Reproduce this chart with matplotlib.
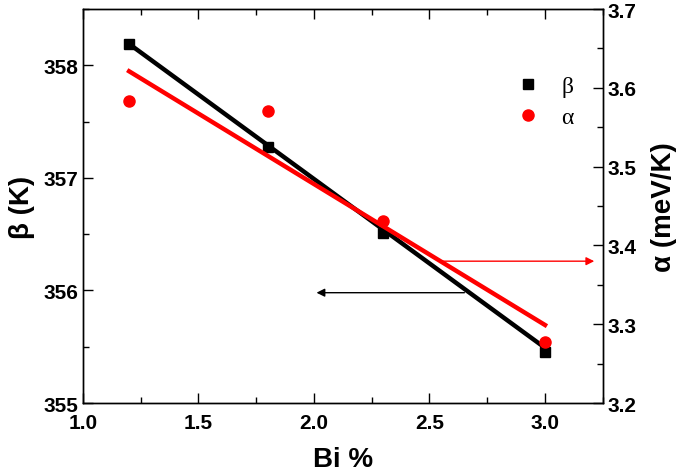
import matplotlib
matplotlib.use("Agg")
import matplotlib.pyplot as plt

bi = [1.2, 1.8, 2.3, 3.0]
beta = [358.19, 357.27, 356.51, 355.45]
alpha = [3.583, 3.571, 3.431, 3.277]
fit_x = [1.2, 3.0]
beta_fit = [358.19, 355.49]
alpha_fit = [3.621, 3.299]
x_ticks = [1.0, 1.5, 2.0, 2.5, 3.0]
x_minor = [1.25, 1.75, 2.25, 2.75, 3.25]
x_labels = ['1.0', '1.5', '2.0', '2.5', '3.0']
beta_ticks = [355, 356, 357, 358]
beta_minor = [355.5, 356.5, 357.5, 358.5]
alpha_ticks = [3.2, 3.3, 3.4, 3.5, 3.6, 3.7]
alpha_minor = [3.25, 3.35, 3.45, 3.55, 3.65]

plt.rcParams['font.family'] = ['Liberation Sans', 'DejaVu Sans']

fig = plt.figure(figsize=(6.85, 4.77), dpi=100)
ax = fig.add_axes([0.121, 0.153, 0.759, 0.826])
ax2 = ax.twinx()

ax.plot(fit_x, beta_fit, color='black', lw=3.2, zorder=2)
ax.plot(bi, beta, 's', color='black', ms=7, zorder=3)
ax2.plot(fit_x, alpha_fit, color='#ff0000', lw=3.2, zorder=2)
ax2.plot(bi, alpha, 'o', color='#ff0000', ms=8, zorder=3)

ax.set_xlim(1.0, 3.25)
ax.set_ylim(355, 358.5)
ax2.set_ylim(3.2, 3.7)

ax.set_xticks(x_ticks)
ax.set_xticklabels(x_labels, fontweight='bold')
ax.set_xticks(x_minor, minor=True)
ax.set_yticks(beta_ticks)
ax.set_yticklabels([str(v) for v in beta_ticks], fontweight='bold')
ax.set_yticks(beta_minor, minor=True)
ax2.set_yticks(alpha_ticks)
ax2.set_yticklabels(['%.1f' % v for v in alpha_ticks], fontweight='bold')
ax2.set_yticks(alpha_minor, minor=True)

for a in (ax, ax2):
    a.tick_params(which='both', direction='in', width=1.0, labelsize=15)
    a.tick_params(which='major', length=7)
    a.tick_params(which='minor', length=4)
    for s in a.spines.values():
        s.set_linewidth(1.0)
ax.tick_params(which='both', top=True)
ax.tick_params(axis='x', pad=7)

ax.set_xlabel('Bi %', fontsize=20, fontweight='bold', labelpad=10)
ax.set_ylabel('β (K)', fontsize=20, fontweight='bold', labelpad=6)
ax2.set_ylabel('α (meV/K)', fontsize=20, fontweight='bold', labelpad=10)

ax2.annotate('', xy=(3.213, 3.380), xytext=(2.556, 3.380),
             arrowprops=dict(arrowstyle='-|>', color='#ff0000', lw=1.0,
                             mutation_scale=12, shrinkA=0, shrinkB=0))
ax.annotate('', xy=(2.011, 355.98), xytext=(2.651, 355.98),
            arrowprops=dict(arrowstyle='-|>', color='black', lw=1.0,
                            mutation_scale=12, shrinkA=0, shrinkB=0))

h1, = ax.plot([], [], 's', color='black', ms=7)
h2, = ax.plot([], [], 'o', color='#ff0000', ms=8)
ax2.legend([h1, h2], ['β', 'α'], loc='upper right', bbox_to_anchor=(0.985, 0.885),
           frameon=False, prop={'family': 'Liberation Serif', 'size': 17},
           handletextpad=0.8, labelspacing=0.4, handlelength=1.2)

fig.savefig('out.png', dpi=100)
